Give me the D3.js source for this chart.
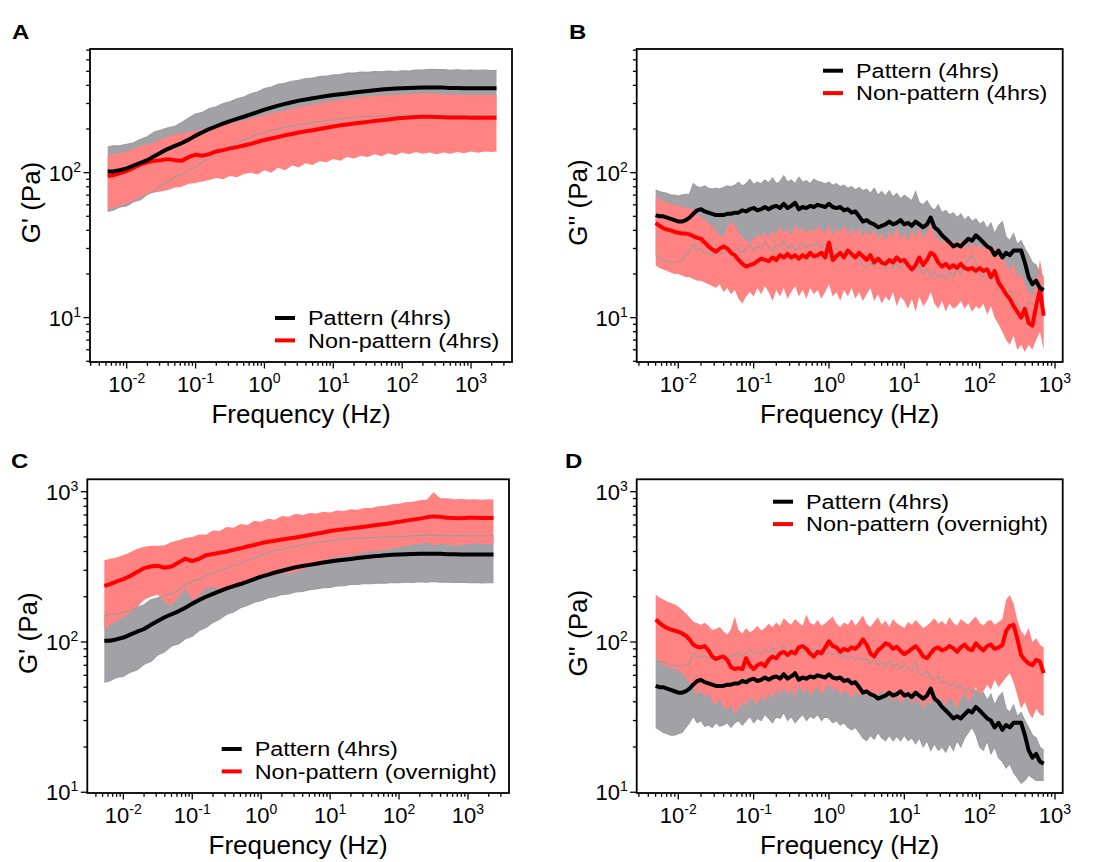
<!DOCTYPE html>
<html><head><meta charset="utf-8">
<script src="https://cdn.jsdelivr.net/npm/d3@7"></script>
<style>body{margin:0;background:#fff} svg text{font-family:"Liberation Sans",Arial,sans-serif;fill:#000}</style>
</head><body><svg id="fig" width="1109" height="862"></svg>
<script>
// ---------- G' (storage modulus) frequency grid, Hz ----------
const freqGp = [0.0053,0.0063,0.0079,
 0.01,0.0126,0.0158,0.02,0.0251,0.0316,0.0398,0.0501,0.0631,0.0794,
 0.1,0.126,0.158,0.2,0.251,0.316,0.398,0.501,0.631,0.794,
 1,1.26,1.58,2,2.51,3.16,3.98,5.01,6.31,7.94,
 10,12.6,15.8,20,25.1,31.6,39.8,50.1,63.1,79.4,
 100,126,158,200,251,316,398,501,631,794,
 1000,1259,1585,1995,2344];
// Pattern (4hrs) G' mean and +/- SD envelope
const gpPattern = [102,102,104,107,112,117,122,130,138,146,153,160,169,180,190,200,209,218,227,235,243,252,262,272,281,290,298,306,314,320,326,332,338,343,348,352,357,362,366,370,374,377,380,382,384,385,386,386,387,386,384,383,382,382,382,382,382,382];
const gpPatternHi = [150,153,153,157,161,170,177,191,197,204,209,222,238,254,261,277,285,300,308,324,333,350,360,380,390,407,413,427,433,446,450,460,463,474,476,486,486,494,492,498,496,502,498,504,502,510,510,517,514,514,508,512,508,511,509,510,507,508];
const gpPatternLo = [54,55,58,59,63,65,71,74,82,86,94,97,105,109,119,125,135,142,153,158,169,175,184,188,197,200,207,209,215,217,223,225,230,231,236,237,241,241,245,244,247,246,249,248,251,249,252,250,253,250,251,249,250,248,249,247,248,248];
// Non-pattern (4hrs) G'
const gpNonPat4h = [95,96,99,103,108,114,118,121,122,124,122,121,128,133,131,134,140,143,147,150,154,158,163,168,172,176,181,185,189,193,196,200,204,208,212,215,218,221,224,227,230,233,236,238,240,242,243,243,242,241,240,240,240,239,239,239,239,239];
const gpNonPat4hHi = [132,133,136,140,146,152,156,162,170,178,183,186,190,195,198,203,208,212,218,223,229,236,242,250,256,262,268,275,283,290,296,302,307,312,318,322,328,332,335,338,340,342,344,346,348,350,352,352,350,348,346,345,344,344,344,343,343,343];
const gpNonPat4hLo = [56,57,59,61,64,68,71,73,74,76,79,80,84,85,87,89,92,90,95,93,98,100,97,104,100,108,104,112,109,116,113,120,118,124,121,128,125,131,128,134,130,136,132,138,134,139,135,138,134,138,135,139,136,140,137,140,139,140];
// Non-pattern (overnight) G'
const gpNonPatON = [236,242,252,262,275,292,310,318,321,312,318,338,358,345,358,378,385,392,400,410,420,432,442,455,465,472,480,488,496,505,515,525,535,548,556,562,570,578,585,594,602,610,620,630,642,652,662,675,685,680,672,668,666,670,672,668,668,668];
const gpNonPatONHi = [350,356,365,378,395,415,430,436,436,440,462,475,492,500,520,518,552,548,582,576,610,600,640,630,660,650,690,680,712,700,722,715,735,728,750,745,765,758,780,778,800,805,825,830,850,858,878,885,990,905,905,890,895,888,892,885,890,888];
const gpNonPatONLo = [122,128,138,146,155,170,190,200,206,185,175,200,224,190,204,230,230,228,230,236,242,252,259,265,290,282,288,286,292,302,315,328,340,361,367,372,380,386,395,403,406,410,420,425,436,444,449,460,440,450,444,441,442,448,454,448,448,448];

// ---------- G'' (loss modulus) frequency grid, Hz ----------
const freqGpp = [0.00501,0.00562,0.00631,0.00708,0.00794,0.00891,
 0.01,0.0112,0.0126,0.0141,0.0158,0.0178,0.02,0.0224,0.0251,0.0282,0.0316,0.0355,0.0398,0.0447,0.0501,0.0562,0.0631,0.0708,0.0794,0.0891,
 0.1,0.112,0.126,0.141,0.158,0.178,0.2,0.224,0.251,0.282,0.316,0.355,0.398,0.447,0.501,0.562,0.631,0.708,0.794,0.891,
 1,1.12,1.26,1.41,1.58,1.78,2,2.24,2.51,2.82,3.16,3.55,3.98,4.47,5.01,5.62,6.31,7.08,7.94,8.91,
 10,11.2,12.6,14.1,15.8,17.8,20,22.4,25.1,28.2,31.6,35.5,39.8,44.7,50.1,56.2,63.1,70.8,79.4,89.1,
 100,112,126,141,158,178,200,224,251,282,316,355,398,447,501,562,631,708];
const gppPattern = [51,50,50,49,48,47,46,46,47,49,
 52,55,56,54,53,52,51,51,51,52,
 52,53,53,55,54,56,57,55,56,58,
 56,58,59,57,61,57,59,62,56,58,
 57,59,58,60,59,58,61,58,57,58,
 55,56,53,54,50,46,47,45,44,42,
 43,44,46,44,45,47,44,45,43,46,
 44,42,44,49,42,40,37,35,33,31,
 32,31,33,35,34,37,35,33,31,30,
 27,29,26,28,27,29,29,29,24,19,
 17,18,16,15.5];
const gppPatternHi = [76,74,73,72,70,70,69,70,71,71,
 84,80,79,81,78,77,78,77,79,81,
 80,82,86,81,84,90,83,86,84,89,
 85,92,84,87,95,86,89,84,93,86,
 88,84,90,87,86,84,86,82,84,80,
 82,78,80,76,79,75,77,72,78,70,
 74,69,75,68,72,66,70,67,64,74,
 62,60,64,58,55,60,53,55,51,53,
 49,52,47,50,46,48,44,46,41,45,
 38,43,46,36,34,38,32,34,30,27,
 24,23,20,19];
const gppPatternLo = [27,26,25,24.5,24,24,24.5,25,27,29,
 32,29,30,27.5,28,27,29,27.5,28,29,
 27,29,30,28,30,32,29,31,30,33,
 31,29,32,31,34,30,32,29,31,33,
 30,32,31,33,30,32,31,29,30,28,
 29,27,26,27,25,23,22,24,22.5,25,
 23,22,24,22,23.5,22,24,22,23,21,
 23,20,22,19,21,19,20,18.5,21,19,
 22,20,23,25,27,24,20,19,22,18,
 20,17,16,14.5,15.5,13.5,12.5,11.5,12,13,
 12.5,12,12,12];
const gppNonPat4h = [45,43,41.5,40.5,40,39,38.5,38,38,37.5,
 36.5,35.5,35,33,31,29.5,28.5,30,31,30,
 28,27,25,23.5,22.5,23,23.5,24.5,25.5,25,
 24.5,26,25,27,26,27.5,26,27,25.5,27,
 26,28,26.5,27,28,26,33,25,26.5,28,
 26,29,27.5,26,28,26.5,25,27,24,25.5,
 24,23.5,25,24,26,24.5,25,23,21.5,23,
 26,23,25,28,27,24,22.5,23.5,22,23,
 22,23.5,22,21.5,22,21,22,21,21.5,19,
 21,17.5,16,14.5,13.5,12,11,10,11.5,9.2,
 8.8,12,15.5,10.3];
const gppNonPat4hHi = [68,66,64,62,61,60,59,58,57,56.5,
 56,52,49,47,45,43,40,37,36,42,
 46,43,39,36,34,33,35,37,36,39,
 35,40,37,43,38,41,37,44,39,42,
 38,41,39,43,40,38,44,37,41,39,
 43,38,41,37,42,36,40,37,41,35,
 38,34,39,36,42,35,38,34,40,36,
 42,35,39,44,37,35,33,36,32,35,
 31,34,32,30,33,30,32,30,33,29,
 31,26,28,23,21,24,19,20,17,15,
 14,17,25,18];
const gppNonPat4hLo = [23,22,21.5,21,20.5,20,20,19.5,19,19,
 18.5,18,18,17.5,17,16.5,16,17,15,16,
 14.5,15.5,13.5,12.5,14,15,14,16,14.5,16.5,
 15,13,15.5,14,16,13.5,15,16.5,14,15.5,
 13.5,16,14.5,15.5,13.5,15,17,14,15,13,
 15.5,14,16,13.5,15,13,14.5,16,13,14.5,
 12.5,14,13,15,12,14,13,11.5,13.5,11,
 14,12,13,15,12.5,11.5,13,11,12.5,11.5,
 12,13,11.5,12.5,11,12,11.5,12.5,10.5,12,
 10,9,8,7,6.5,7.5,6,6.5,5.8,6.5,
 6,7,8,6];
const gppNonPatON = [141,134,128,124,121,119,117,114,110,104,
 96,93,92,94,88,80,77,79,80,76,
 68,66,67,66,78,70,66,70,72,69,
 76,80,78,84,86,82,86,84,92,94,
 90,84,80,86,84,92,101,94,92,86,
 90,88,92,90,95,104,96,84,80,88,
 92,98,96,90,93,87,83,86,90,94,
 88,80,78,84,90,92,88,90,94,91,
 86,92,96,90,88,98,92,88,94,96,
 90,92,95,118,128,130,105,82,76,72,
 70,76,74,62];
const gppNonPatONHi = [206,198,192,186,182,178,172,164,155,146,
 137,133,130,134,128,120,122,126,118,112,
 122,148,120,114,124,116,120,128,119,124,
 132,126,135,128,144,136,130,142,134,128,
 152,134,130,140,128,133,140,148,132,126,
 135,130,142,128,138,150,132,126,136,146,
 130,139,126,142,133,128,124,136,130,140,
 132,124,128,136,144,132,138,130,146,134,
 128,142,136,130,140,148,134,128,138,140,
 130,136,142,190,205,180,140,118,110,124,
 100,106,96,92];
const gppNonPatONLo = [77,73,70,68,67,66,65,62,58,54,
 49,45,47,43,46,40,38,42,37,35,
 38,33,36,40,37,43,41,38,44,40,
 46,42,48,44,50,45,48,43,52,46,
 49,44,47,51,45,48,53,47,50,44,
 48,46,42,47,44,49,43,46,41,45,
 48,43,46,40,44,39,42,45,38,43,
 40,36,41,38,44,39,42,37,43,40,
 36,42,46,40,44,50,43,47,52,48,
 56,50,54,58,62,54,44,36,40,34,
 31,36,33,32];

// ---------- tick labels & legend text ----------
const xTickExps = [-2,-1,0,1,2,3];
const yTickExpsTop = [1,2];
const yTickExpsBottom = [1,2,3];
const legendTop = ["Pattern (4hrs)","Non-pattern (4hrs)"];
const legendBottom = ["Pattern (4hrs)","Non-pattern (overnight)"];
const panelLetters = ["A","B","C","D"];

const svg = d3.select('#fig');
const GRAY = '#a1a1a6', PINK = '#ff8383', EDGE = '#9c9c9c';

const panels = [
 {letter:panelLetters[0], lx:12, ly:39, f:[90,49,512,362], xd:[-2.533,3.595], yd:[0.694,2.853], yt:yTickExpsTop, ytitle:"G' (Pa)",
  freq:freqGp, m1:gpPattern, h1:gpPatternHi, l1:gpPatternLo, m2:gpNonPat4h, h2:gpNonPat4hHi, l2:gpNonPat4hLo, leg:legendTop, legX:275, legY:318},
 {letter:panelLetters[1], lx:569, ly:39, f:[636.7,49,1062.7,362], xd:[-2.552,3.102], yd:[0.694,2.853], yt:yTickExpsTop, ytitle:"G'' (Pa)",
  freq:freqGpp, m1:gppPattern, h1:gppPatternHi, l1:gppPatternLo, m2:gppNonPat4h, h2:gppNonPat4hHi, l2:gppNonPat4hLo, leg:legendTop, legX:823, legY:70.7},
 {letter:panelLetters[2], lx:11, ly:468, f:[87.3,479.3,509,793], xd:[-2.5225,3.595], yd:[0.995,3.0825], yt:yTickExpsBottom, ytitle:"G' (Pa)",
  freq:freqGp, m1:gpPattern, h1:gpPatternHi, l1:gpPatternLo, m2:gpNonPatON, h2:gpNonPatONHi, l2:gpNonPatONLo, leg:legendBottom, legX:221.7, legY:749},
 {letter:panelLetters[3], lx:565, ly:468, f:[636.7,479.3,1062.7,793], xd:[-2.552,3.102], yd:[0.995,3.0825], yt:yTickExpsBottom, ytitle:"G'' (Pa)",
  freq:freqGpp, m1:gppPattern, h1:gppPatternHi, l1:gppPatternLo, m2:gppNonPatON, h2:gppNonPatONHi, l2:gppNonPatONLo, leg:legendBottom, legX:773, legY:501.7}
];

function minorTicks(dom){
  const out=[]; const lo=Math.floor(dom[0]), hi=Math.ceil(dom[1]);
  for(let k=lo;k<=hi;k++) for(let m=1;m<=9;m++){const v=m*Math.pow(10,k); const lv=Math.log10(v);
    if(lv>=dom[0]-1e-9 && lv<=dom[1]+1e-9) out.push({v, major:m===1});}
  return out;
}

panels.forEach(p=>{
  const [x0,y0,x1,y1]=p.f;
  const x=d3.scaleLog().domain([10**p.xd[0],10**p.xd[1]]).range([x0,x1]);
  const y=d3.scaleLog().domain([10**p.yd[0],10**p.yd[1]]).range([y1,y0]);
  const g=svg.append('g');
  const idx=d3.range(p.freq.length);
  const band=(lo,hi)=>d3.area().x(i=>x(p.freq[i])).y0(i=>y(lo[i])).y1(i=>y(hi[i]))(idx);
  const line=(arr)=>d3.line().x(i=>x(p.freq[i])).y(i=>y(arr[i]))(idx);
  g.append('path').attr('d',band(p.l1,p.h1)).attr('fill',GRAY);
  g.append('path').attr('d',band(p.l2,p.h2)).attr('fill',PINK);
  g.append('path').attr('d',line(p.l1)).attr('fill','none').attr('stroke',EDGE).attr('stroke-width',1.1);
  g.append('path').attr('d',line(p.h1)).attr('fill','none').attr('stroke',EDGE).attr('stroke-width',1.1);
  g.append('path').attr('d',line(p.m2)).attr('fill','none').attr('stroke','#ff0000').attr('stroke-width',4).attr('stroke-linejoin','round');
  g.append('path').attr('d',line(p.m1)).attr('fill','none').attr('stroke','#000').attr('stroke-width',4).attr('stroke-linejoin','round');

  // frame
  g.append('rect').attr('x',x0).attr('y',y0).attr('width',x1-x0).attr('height',y1-y0)
    .attr('fill','none').attr('stroke','#000').attr('stroke-width',1.8);
  // ticks
  minorTicks(p.xd).forEach(t=>{
    const xx=x(t.v);
    g.append('line').attr('x1',xx).attr('x2',xx).attr('y1',y1).attr('y2',y1+(t.major?6.5:3.8)).attr('stroke','#000').attr('stroke-width',1.3);
  });
  minorTicks(p.yd).forEach(t=>{
    const yy=y(t.v);
    g.append('line').attr('y1',yy).attr('y2',yy).attr('x1',x0).attr('x2',x0-(t.major?6.5:3.8)).attr('stroke','#000').attr('stroke-width',1.3);
  });
  xTickExps.forEach(e=>{
    const t=g.append('text').attr('x',x(10**e)).attr('y',y1+30).attr('text-anchor','middle').attr('font-size',22);
    t.append('tspan').text('10');
    t.append('tspan').attr('dy',-9).attr('font-size',14).text(String(e));
  });
  p.yt.forEach(e=>{
    const t=g.append('text').attr('x',x0-9).attr('y',y(10**e)+8).attr('text-anchor','end').attr('font-size',22);
    t.append('tspan').text('10');
    t.append('tspan').attr('dy',-9).attr('font-size',14).text(String(e));
  });
  // titles
  g.append('text').attr('x',(x0+x1)/2).attr('y',y1+61).attr('text-anchor','middle').attr('font-size',26).text('Frequency (Hz)');
  g.append('text').attr('transform',`translate(${x0-50},${(y0+y1)/2-3}) rotate(-90)`).attr('text-anchor','middle').attr('font-size',26).text(p.ytitle);
  g.append('text').attr('transform',`translate(${p.lx},${p.ly}) scale(1.2,1)`).attr('font-size',20).attr('font-weight','bold').text(p.letter);
  // legend
  [['#000',p.leg[0]],['#ff0000',p.leg[1]]].forEach((d,i)=>{
    const ly=p.legY+i*22.4;
    g.append('line').attr('x1',p.legX).attr('x2',p.legX+20).attr('y1',ly).attr('y2',ly).attr('stroke',d[0]).attr('stroke-width',4);
    g.append('text').attr('transform',`translate(${p.legX+33},${ly+7.3}) scale(1.16,1)`).attr('font-size',20.2).text(d[1]);
  });
});
</script></body></html>
